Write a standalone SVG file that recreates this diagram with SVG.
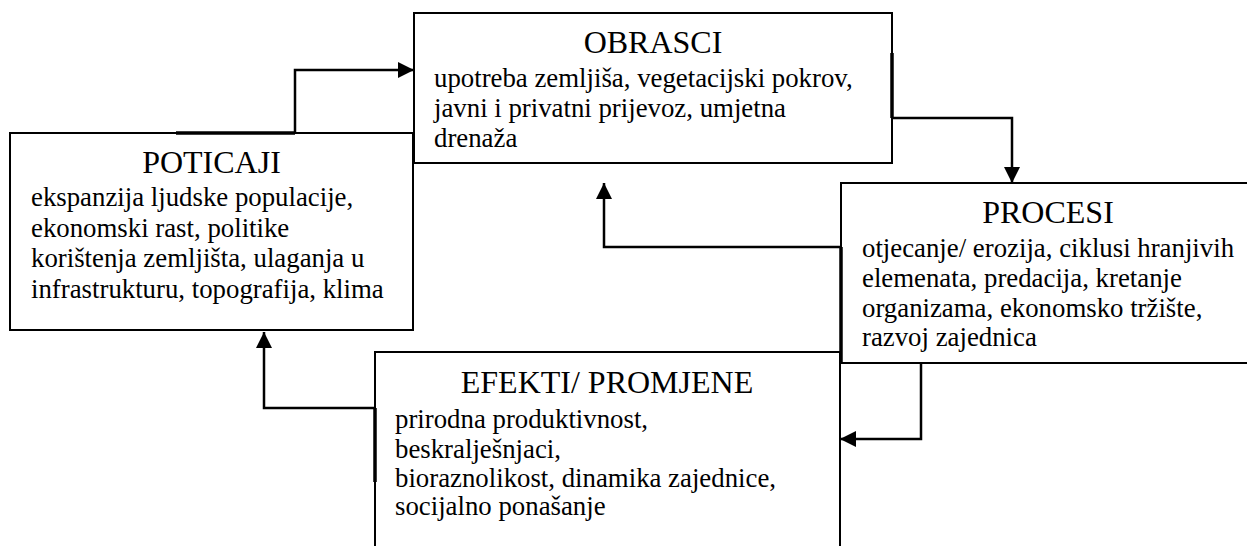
<svg xmlns="http://www.w3.org/2000/svg" width="1247" height="546" viewBox="0 0 1247 546">
<style>
.box{fill:#fff;stroke:#000;stroke-width:2}
text{font-family:"Liberation Serif","Times New Roman",serif;fill:#000}
.t{font-size:32px;text-anchor:middle}
.bd{font-size:26.8px}
.c{fill:none;stroke:#000;stroke-width:2.5}
.k{fill:none;stroke:#000;stroke-width:3.5}
</style>
<defs>
<marker id="ah" markerUnits="userSpaceOnUse" markerWidth="16" markerHeight="16" viewBox="0 0 16 16" refX="16" refY="8" orient="auto">
<path d="M0,0 L16,8 L0,16 Z" fill="#000"/>
</marker>
</defs>
<g id="poticaji">
<rect class="box" x="10" y="133" width="403" height="197"/>
<text class="t" x="211.5" y="173">POTICAJI</text>
<text class="bd" x="31" y="206">ekspanzija ljudske populacije,</text>
<text class="bd" x="31" y="237">ekonomski rast, politike</text>
<text class="bd" x="31" y="267">korištenja zemljišta, ulaganja u</text>
<text class="bd" x="31" y="298">infrastrukturu, topografija, klima</text>
</g>
<g id="obrasci">
<rect class="box" x="414" y="13" width="478" height="150"/>
<text class="t" x="653" y="53">OBRASCI</text>
<text class="bd" x="434" y="87">upotreba zemljiša, vegetacijski pokrov,</text>
<text class="bd" x="434" y="117">javni i privatni prijevoz, umjetna</text>
<text class="bd" x="434" y="147">drenaža</text>
</g>
<g id="procesi">
<rect class="box" x="841" y="183" width="420" height="180"/>
<text class="t" x="1048" y="223">PROCESI</text>
<text class="bd" x="862" y="257">otjecanje/ erozija, ciklusi hranjivih</text>
<text class="bd" x="862" y="287">elemenata, predacija, kretanje</text>
<text class="bd" x="862" y="317">organizama, ekonomsko tržište,</text>
<text class="bd" x="862" y="346">razvoj zajednica</text>
</g>
<g id="efekti">
<rect class="box" x="375" y="352" width="465" height="210"/>
<text class="t" x="607" y="393">EFEKTI/ PROMJENE</text>
<text class="bd" x="395" y="428">prirodna produktivnost,</text>
<text class="bd" x="395" y="458">beskralješnjaci,</text>
<text class="bd" x="395" y="487">bioraznolikost, dinamika zajednice,</text>
<text class="bd" x="395" y="515">socijalno ponašanje</text>
</g>
<g id="connectors">
<path class="c" d="M295,133 V70 H414" marker-end="url(#ah)"/>
<path class="k" d="M176,133 H295"/>
<path class="c" d="M892,118 H1012 V183" marker-end="url(#ah)"/>
<path class="k" d="M892,53 V118"/>
<path class="c" d="M841,247 H604 V183" marker-end="url(#ah)"/>
<path class="k" d="M841,247 V363"/>
<path class="c" d="M921,363 V439 H840" marker-end="url(#ah)"/>
<path class="c" d="M375,408 H264 V332" marker-end="url(#ah)"/>
<path class="k" d="M375,408 V482"/>
</g>
</svg>
